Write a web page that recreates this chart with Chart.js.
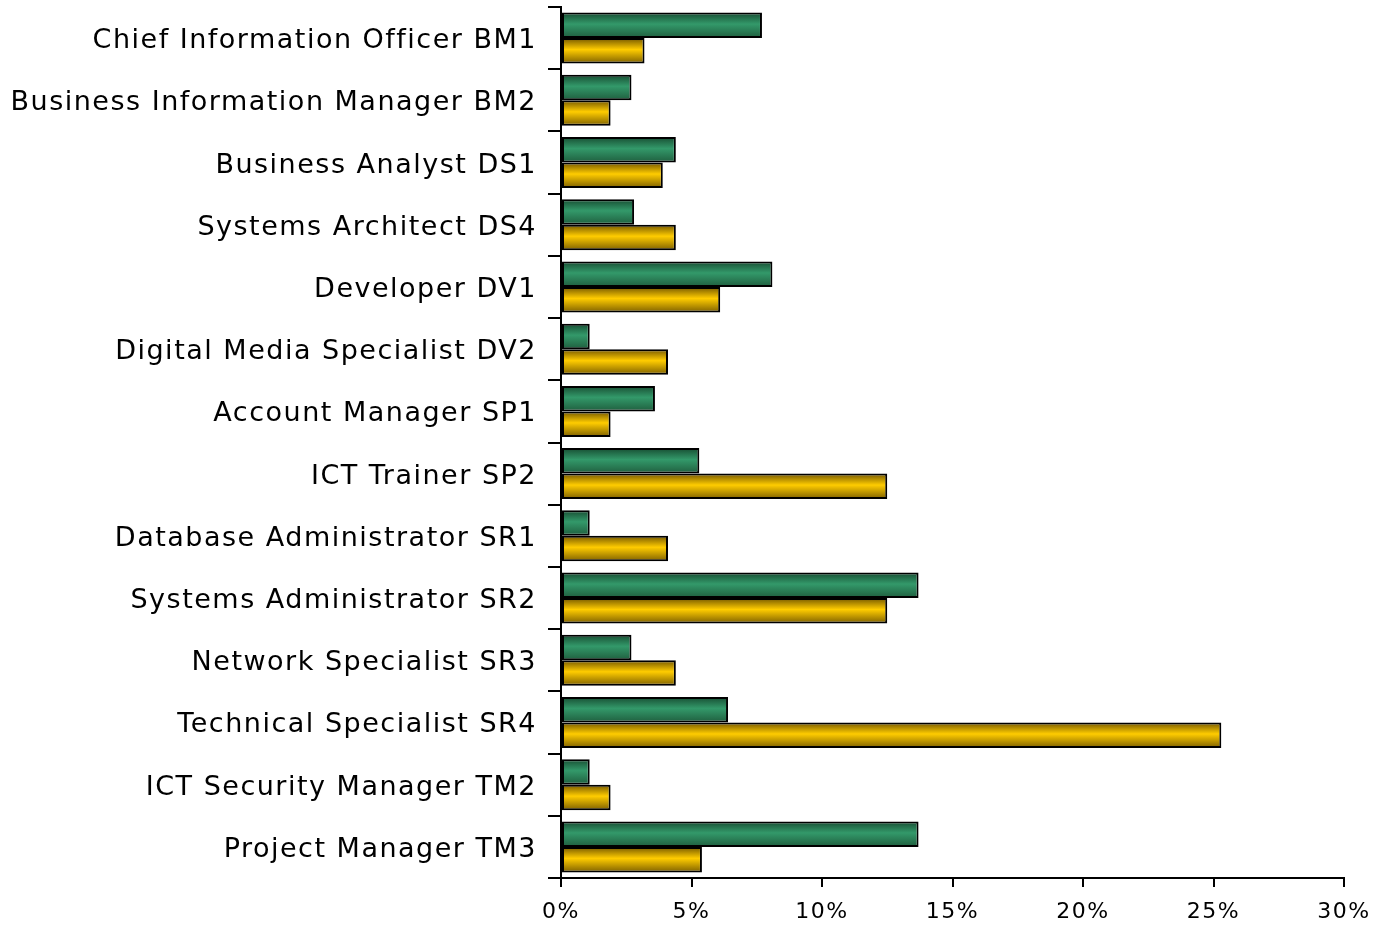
<!DOCTYPE html>
<html>
<head>
<meta charset="utf-8">
<script src="https://cdn.jsdelivr.net/npm/chart.js@4.4.1/dist/chart.umd.min.js"></script>
<style>
  html, body { margin: 0; padding: 0; background: #fff; }
  #wrap { width: 1383px; height: 925px; position: relative; }
</style>
</head>
<body>
<div id="wrap"><canvas id="roles"></canvas></div>
<script>
// role labels (top to bottom)
var roles = [
    'Chief Information Officer BM1',
    'Business Information Manager BM2',
    'Business Analyst DS1',
    'Systems Architect DS4',
    'Developer DV1',
    'Digital Media Specialist DV2',
    'Account Manager SP1',
    'ICT Trainer SP2',
    'Database Administrator SR1',
    'Systems Administrator SR2',
    'Network Specialist SR3',
    'Technical Specialist SR4',
    'ICT Security Manager TM2',
    'Project Manager TM3'
]
// percentages
var greenValues = [7.7, 2.7, 4.4, 2.8, 8.1, 1.1, 3.6, 5.3, 1.1, 13.7, 2.7, 6.4, 1.1, 13.7]
var yellowValues = [3.2, 1.9, 3.9, 4.4, 6.1, 4.1, 1.9, 12.5, 4.1, 12.5, 4.4, 25.3, 1.9, 5.4]
var xTicks = [0, 5, 10, 15, 20, 25, 30]

var catPct = 0.82
var barPct = 1.0

// vertical gradient across each horizontal bar, worked out from the y scale
function barGradient(dark, light, darkBottom){
    return function(ctx){
        var chart = ctx.chart
        var y = chart.scales.y
        if (!y || ctx.dataIndex === undefined) return light
        var step = y.height / roles.length
        var thick = step * catPct * barPct / 2
        var center = y.getPixelForValue(ctx.dataIndex)
        var top = ctx.datasetIndex === 0 ? center - thick : center
        if (!isFinite(top) || !isFinite(thick) || thick <= 0) return light
        var g = chart.ctx.createLinearGradient(0, top, 0, top + thick)
        g.addColorStop(0, dark)
        g.addColorStop(0.45, light)
        g.addColorStop(1, darkBottom)
        return g
    }
}

// the labels in the picture are set a little wide
var spacing = {
    id: 'spacing',
    beforeLayout: function(chart){ chart.ctx.letterSpacing = '1.5px' },
    beforeDraw: function(chart){ chart.ctx.letterSpacing = '1.5px' }
}

var ctx = document.getElementById('roles')
var chart = new Chart(ctx, {
    type: 'bar',
    plugins: [spacing],
    data: {
        labels: roles,
        datasets: [{
            label: 'Green',
            data: greenValues,
            backgroundColor: barGradient('#174d32', '#33996a', '#1f5e3e'),
            borderColor: '#000',
            borderWidth: 2,
            borderSkipped: false
        }, {
            label: 'Yellow',
            data: yellowValues,
            backgroundColor: barGradient('#735600', '#ffcc00', '#7d5f00'),
            borderColor: '#000',
            borderWidth: 2,
            borderSkipped: false
        }]
    },
    options: {
        indexAxis: 'y',
        responsive: true,
        maintainAspectRatio: false,
        animation: false,
        categoryPercentage: catPct,
        barPercentage: barPct,
        layout: { padding: { top: 7, right: 39, left: 0, bottom: 0 } },
        plugins: {
            legend: { display: false },
            tooltip: { enabled: false }
        },
        scales: {
            x: {
                min: 0,
                max: 30,
                afterBuildTicks: function(scale){
                    scale.ticks = xTicks.map(function(v){ return { value: v } })
                },
                afterFit: function(scale){ scale.height = 47 },
                border: { display: true, color: '#000', width: 2 },
                grid: { drawOnChartArea: false, drawTicks: true, tickLength: 9, color: '#000', lineWidth: 2 },
                ticks: {
                    color: '#000',
                    padding: 12,
                    font: { family: 'DejaVu Sans', size: 22 },
                    callback: function(v){ return v + '%' }
                }
            },
            y: {
                offset: true,
                afterFit: function(scale){
                    scale.width = 561
                    scale.paddingTop = 0
                    scale.paddingBottom = 0
                },
                border: { display: true, color: '#000', width: 2 },
                grid: { offset: true, drawOnChartArea: false, drawTicks: true, tickLength: 13, color: '#000', lineWidth: 2 },
                ticks: {
                    color: '#000',
                    padding: 11,
                    labelOffset: 3,
                    font: { family: 'DejaVu Sans', size: 27 }
                }
            }
        }
    }
})
</script>
</body>
</html>
